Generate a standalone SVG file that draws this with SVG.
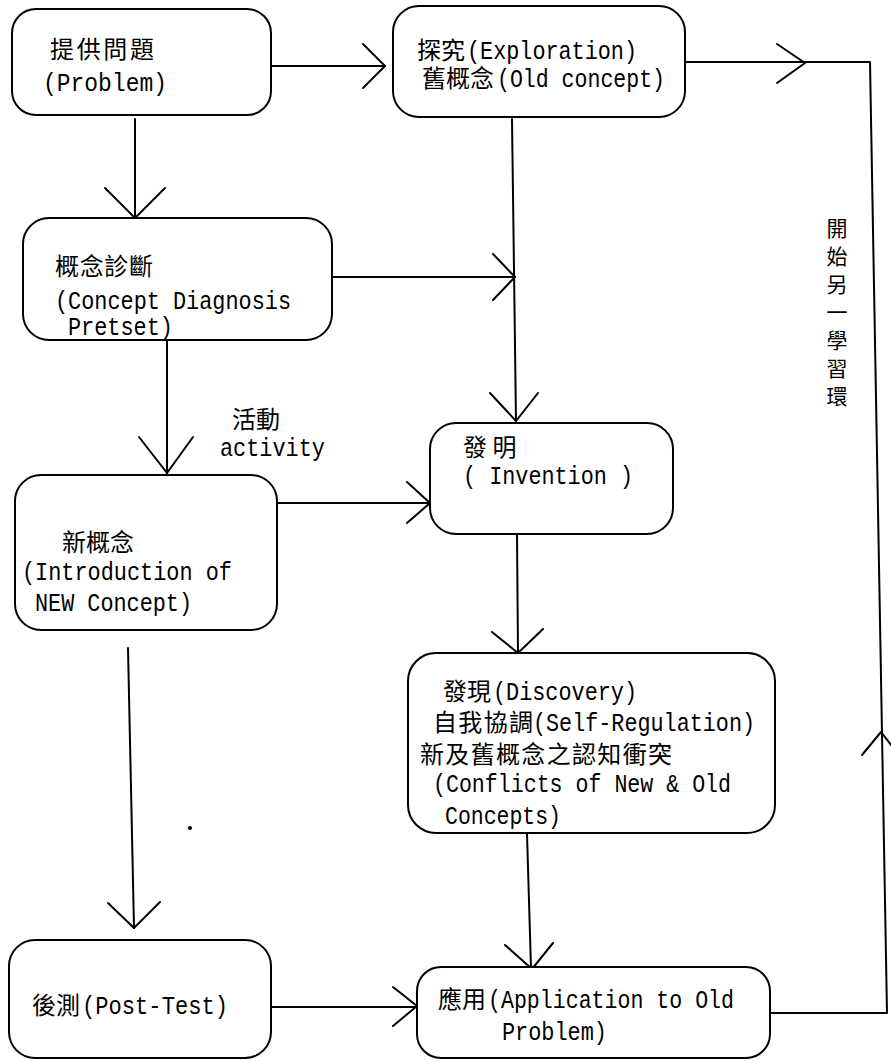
<svg xmlns="http://www.w3.org/2000/svg" width="891" height="1061" viewBox="0 0 891 1061">
<style>
.box{fill:#fff;stroke:#000;stroke-width:2}
.ln{fill:none;stroke:#000;stroke-width:2;stroke-linecap:round;stroke-linejoin:round}
text{font-family:"Liberation Mono","Noto Sans CJK TC",monospace;font-size:25px;fill:#000}
.c{font-family:"Noto Sans CJK TC","Noto Sans CJK SC",sans-serif;font-size:24px}
.v{font-family:"Noto Sans CJK TC","Noto Sans CJK SC",sans-serif;font-size:21px;text-anchor:middle}
</style>
<rect width="891" height="1061" fill="#fff"/>
<g id="connectors">
<line class="ln" x1="272" y1="66" x2="385" y2="66"/>
<polyline class="ln" points="363,44 385,66 363,88"/>
<line class="ln" x1="135" y1="119" x2="135" y2="218"/>
<polyline class="ln" points="105,188 135,218 165,188"/>
<line class="ln" x1="332" y1="277" x2="515" y2="277"/>
<polyline class="ln" points="493,254 515,277 493,300"/>
<line class="ln" x1="512" y1="119" x2="516" y2="421"/>
<polyline class="ln" points="490,393 516,421 538,393"/>
<line class="ln" x1="167" y1="341" x2="167" y2="473"/>
<polyline class="ln" points="139,437 167,473 193,437"/>
<line class="ln" x1="277" y1="503" x2="430" y2="503"/>
<polyline class="ln" points="407,482 430,503 407,523"/>
<line class="ln" x1="517" y1="535" x2="518" y2="653"/>
<polyline class="ln" points="492,632 518,653 543,629"/>
<line class="ln" x1="128" y1="648" x2="134" y2="928"/>
<polyline class="ln" points="108,903 134,928 160,902"/>
<line class="ln" x1="527" y1="834" x2="531" y2="968"/>
<polyline class="ln" points="505,945 532,969 553,943"/>
<line class="ln" x1="272" y1="1007" x2="417" y2="1007"/>
<polyline class="ln" points="393,987 417,1006 393,1026"/>
<polyline class="ln" points="770,1013 887,1013 870,62 685,62"/>
<polyline class="ln" points="777,44 805,63 777,83"/>
<polyline class="ln" points="862,755 881,732 899,755"/>
<circle cx="190" cy="828" r="2" fill="#000"/>
</g>
<g id="n1">
<rect class="box" x="12" y="9" width="259" height="106" rx="24"/>
<text class="c" x="50" y="58" textLength="104" lengthAdjust="spacing">提供問題</text>
<text x="43" y="91" textLength="124" lengthAdjust="spacingAndGlyphs">(Problem)</text>
</g>
<g id="n2">
<rect class="box" x="393" y="6" width="292" height="111" rx="26"/>
<text class="c" x="417" y="59">探究</text>
<text x="467" y="59" textLength="170" lengthAdjust="spacingAndGlyphs">(Exploration)</text>
<text class="c" x="422" y="87">舊概念</text>
<text x="497" y="87" textLength="168" lengthAdjust="spacingAndGlyphs">(Old concept)</text>
</g>
<g id="n3">
<rect class="box" x="23" y="218" width="309" height="122" rx="26"/>
<text class="c" x="55" y="275" textLength="98" lengthAdjust="spacing">概念診斷</text>
<text x="55" y="309" textLength="236" lengthAdjust="spacingAndGlyphs">(Concept Diagnosis</text>
<text x="68" y="335" textLength="105" lengthAdjust="spacingAndGlyphs">Pretset)</text>
</g>
<g id="label-activity">
<text class="c" x="232" y="428">活動</text>
<text x="220" y="456" textLength="105" lengthAdjust="spacingAndGlyphs">activity</text>
</g>
<g id="n4">
<rect class="box" x="15" y="475" width="262" height="155" rx="26"/>
<text class="c" x="62" y="551">新概念</text>
<text x="22" y="580" textLength="210" lengthAdjust="spacingAndGlyphs">(Introduction of</text>
<text x="35" y="611" textLength="157" lengthAdjust="spacingAndGlyphs">NEW Concept)</text>
</g>
<g id="n5">
<rect class="box" x="430" y="423" width="243" height="111" rx="26"/>
<text class="c" x="463" y="456">發 明</text>
<text x="463" y="484" textLength="170" lengthAdjust="spacingAndGlyphs">( Invention )</text>
</g>
<g id="n6">
<rect class="box" x="408" y="653" width="367" height="180" rx="28"/>
<text class="c" x="443" y="700">發現</text>
<text x="493" y="700" textLength="144" lengthAdjust="spacingAndGlyphs">(Discovery)</text>
<text class="c" x="433" y="731" textLength="100" lengthAdjust="spacing">自我協調</text>
<text x="533" y="731" textLength="222" lengthAdjust="spacingAndGlyphs">(Self-Regulation)</text>
<text class="c" x="420" y="763" textLength="252" lengthAdjust="spacing">新及舊概念之認知衝突</text>
<text x="433" y="792" textLength="298" lengthAdjust="spacingAndGlyphs">(Conflicts of New &amp; Old</text>
<text x="445" y="824" textLength="116" lengthAdjust="spacingAndGlyphs">Concepts)</text>
</g>
<g id="n7">
<rect class="box" x="9" y="940" width="262" height="118" rx="26"/>
<text class="c" x="32" y="1014">後測</text>
<text x="82" y="1014" textLength="146" lengthAdjust="spacingAndGlyphs">(Post-Test)</text>
</g>
<g id="n8">
<rect class="box" x="417" y="967" width="353" height="91" rx="24"/>
<text class="c" x="438" y="1008">應用</text>
<text x="488" y="1008" textLength="246" lengthAdjust="spacingAndGlyphs">(Application to Old</text>
<text x="502" y="1040" textLength="105" lengthAdjust="spacingAndGlyphs">Problem)</text>
</g>
<g id="label-cycle">
<text class="v" x="837" y="236">開</text>
<text class="v" x="837" y="264">始</text>
<text class="v" x="837" y="292">另</text>
<text class="v" x="837" y="320">一</text>
<text class="v" x="837" y="348">學</text>
<text class="v" x="837" y="376">習</text>
<text class="v" x="837" y="404">環</text>
</g>
</svg>
